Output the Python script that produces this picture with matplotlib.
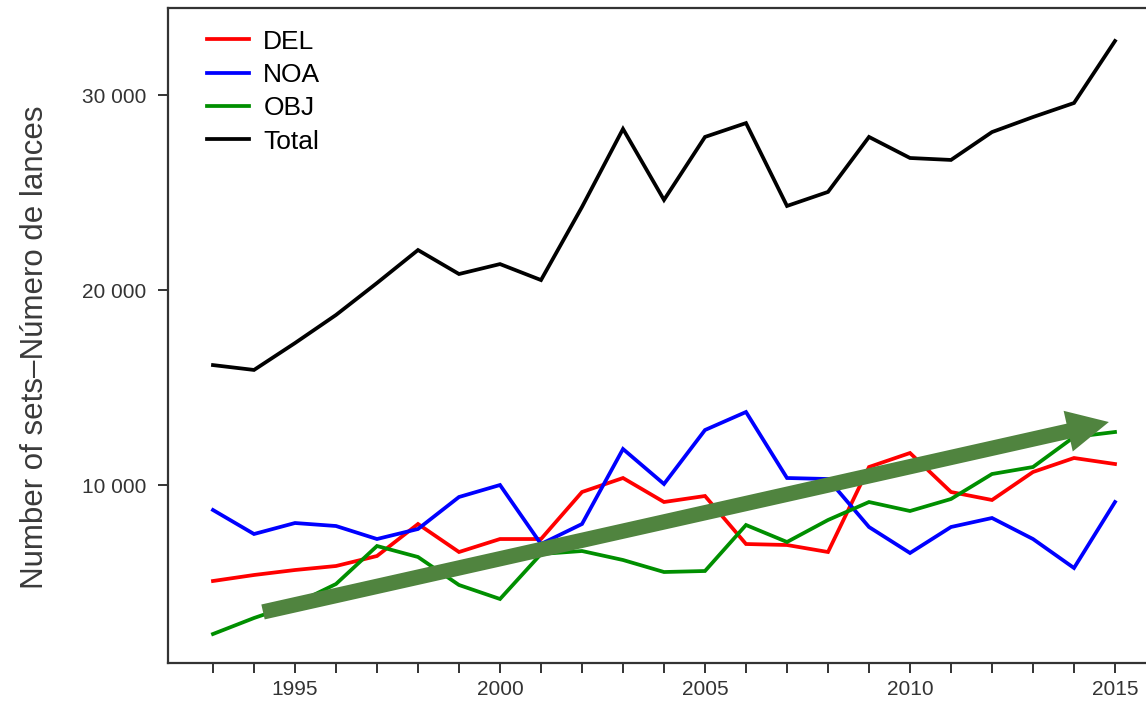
import matplotlib
matplotlib.use("Agg")
import matplotlib.pyplot as plt
from matplotlib.patches import FancyArrowPatch, ArrowStyle
from matplotlib.ticker import FuncFormatter

plt.rcParams['font.family'] = ['Liberation Sans', 'DejaVu Sans']

# Yearly number of sets by fishing mode
years = list(range(1993, 2016))
del_sets = [5077, 5385, 5641, 5846, 6359, 8000, 6564, 7230, 7230, 9641, 10359, 9128,
            9436, 6974, 6923, 6564, 10923, 11641, 9641, 9231, 10667, 11385, 11077]
noa_sets = [8718, 7487, 8051, 7897, 7230, 7744, 9385, 10000, 6974, 8000, 11846, 10051,
            12820, 13744, 10359, 10308, 7846, 6513, 7846, 8308, 7230, 5744, 9128]
obj_sets = [2359, 3179, 3897, 4923, 6872, 6308, 4872, 4154, 6462, 6615, 6154, 5538,
            5590, 7949, 7077, 8205, 9128, 8667, 9282, 10564, 10923, 12462, 12718]
total_sets = [16150, 15900, 17280, 18720, 20360, 22050, 20820, 21330, 20510, 24260, 28260, 24620,
              27850, 28560, 24310, 25030, 27850, 26770, 26670, 28100, 28870, 29590, 32770]

series_labels = ["DEL", "NOA", "OBJ", "Total"]
series_colors = ["#ff0000", "#0000ff", "#008f00", "#000000"]

x_ticks = [1995, 2000, 2005, 2010, 2015]
y_ticks = [10000, 20000, 30000]

# trend arrow (start and end in data units)
trend_start = (1994.22, 3490)
trend_end = (2014.85, 13230)

fig = plt.figure(figsize=(11.46, 7.03), dpi=100)
x0, x1 = 1993 - 45 / 41, 2015 + 44 / 41
ax = fig.add_axes([168 / 1146, 1 - 663 / 703, (1159 - 168) / 1146, (663 - 8) / 703])

for vals, lab, col in zip([del_sets, noa_sets, obj_sets, total_sets], series_labels, series_colors):
    ax.plot(years, vals, color=col, lw=2.7, label=lab, solid_joinstyle='miter')

ax.set_xlim(x0, x1)
ax.set_ylim(872, 34462)

ax.set_xticks(years, minor=True)
ax.set_xticks(x_ticks)
ax.set_yticks(y_ticks)
ax.yaxis.set_major_formatter(FuncFormatter(lambda v, p: f"{int(v):,}".replace(",", " ")))

spine_col = "#333333"
for s in ax.spines.values():
    s.set_color(spine_col)
    s.set_linewidth(1.6)

ax.tick_params(axis='both', which='both', direction='out', color=spine_col, width=1.4,
               labelcolor="#333333", labelsize=15)
ax.tick_params(axis='x', which='both', length=7, pad=5)
ax.tick_params(axis='y', which='major', length=7.5, pad=8)

ax.set_ylabel("Number of sets\u2013Número de lances", fontsize=22.5, color="#3a3a3a")
ax.yaxis.set_label_coords(-0.119, 0.482)

arrow = FancyArrowPatch(trend_start, trend_end,
                        arrowstyle=ArrowStyle.Simple(head_length=30, head_width=30, tail_width=11),
                        mutation_scale=1, shrinkA=0, shrinkB=0,
                        facecolor="#50843f", edgecolor="none", lw=0, zorder=5)
ax.add_patch(arrow)

leg = ax.legend(loc='upper left', frameon=False, fontsize=19, handlelength=1.6,
                handletextpad=0.55, labelspacing=0.355, borderaxespad=0,
                bbox_to_anchor=(28 / 991, 1 - 11 / 655))

fig.savefig("out.png", dpi=100)
